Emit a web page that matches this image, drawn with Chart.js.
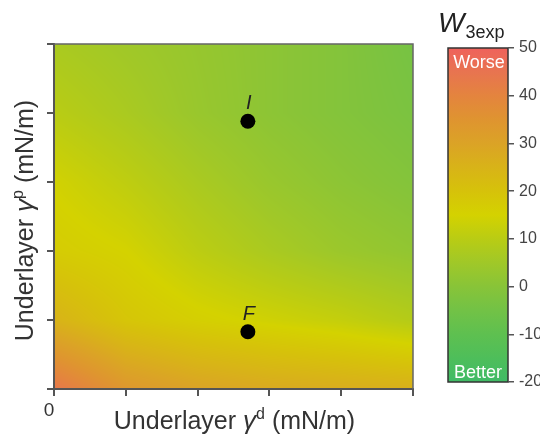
<!DOCTYPE html>
<html>
<head>
<meta charset="utf-8">
<script src="https://cdn.jsdelivr.net/npm/chart.js@4.4.1/dist/chart.umd.min.js"></script>
<style>
  html, body { margin: 0; padding: 0; background: #fff; }
  #wrap { position: relative; width: 540px; height: 435px; overflow: hidden; }
  #main { position: absolute; left: 0; top: 0; }
  #bar { position: absolute; left: 430px; top: 0; }
</style>
</head>
<body>
<div id="wrap">
  <canvas id="main" width="540" height="435"></canvas>
  <canvas id="bar" width="110" height="435"></canvas>
</div>
<script>
// W3exp values, one row per underlayer gamma p, one column per gamma d
const gammaD = [0, 10, 20, 30, 40, 50];
const gammaP = [0, 10, 20, 30, 40, 50];
const w3Rows = [
  [44, 34, 30, 28, 27, 26],      // p = 0
  [25, 19, 16, 14, 12, 9],       // p = 10
  [17, 15, 10.5, 7, 4, 2],       // p = 20
  [14.5, 11, 7, 3.5, 1, -1],     // p = 30
  [10, 7, 3.5, 1, -1, -3],       // p = 40
  [7, 5, 3, 1, -1, -4]           // p = 50
];

// the two marked underlayers
const pointNames = ['I', 'F'];
const pointD = [27, 27];
const pointP = [38.8, 8.3];

// colour bar
const barMin = -20;
const barMax = 50;
const barTicks = [50, 40, 30, 20, 10, 0, -10, -20];
const colorValues = [50, 45, 40, 35, 30, 25, 20, 15, 10, 5, 0, -5, -10, -15, -20];
const colorHex = ['#ef625c', '#e87450', '#e4843e', '#df9430', '#dba326', '#d8b318', '#d6c20a',
  '#d4d200', '#b9cc14', '#a0c828', '#88c438', '#72c246', '#5ec050', '#4ebe5a', '#40bb66'];

const FONT = '"Liberation Sans", Arial, Helvetica, sans-serif';
const TEXT = '#333';

function hexRgb(h) {
  return [parseInt(h.slice(1, 3), 16), parseInt(h.slice(3, 5), 16), parseInt(h.slice(5, 7), 16)];
}
const colorRgb = colorHex.map(hexRgb);

function colorAt(v) {
  if (v >= colorValues[0]) return colorRgb[0];
  for (let i = 0; i < colorValues.length - 1; i++) {
    const a = colorValues[i], b = colorValues[i + 1];
    if (v <= a && v >= b) {
      const t = (a - v) / (a - b);
      const c0 = colorRgb[i], c1 = colorRgb[i + 1];
      return [c0[0] + (c1[0] - c0[0]) * t, c0[1] + (c1[1] - c0[1]) * t, c0[2] + (c1[2] - c0[2]) * t];
    }
  }
  return colorRgb[colorRgb.length - 1];
}

function locate(arr, v) {
  let i = 0;
  while (i < arr.length - 2 && v > arr[i + 1]) i++;
  let t = (v - arr[i]) / (arr[i + 1] - arr[i]);
  t = Math.max(0, Math.min(1, t));
  return [i, t];
}

// smooth shading between the read grid values
function sampleGrid(d, p) {
  const [i, tx] = locate(gammaD, d);
  const [j, ty] = locate(gammaP, p);
  const v00 = w3Rows[j][i], v10 = w3Rows[j][i + 1];
  const v01 = w3Rows[j + 1][i], v11 = w3Rows[j + 1][i + 1];
  return (v00 * (1 - tx) + v10 * tx) * (1 - ty) + (v01 * (1 - tx) + v11 * tx) * ty;
}

// draws a list of text pieces centred on (0,0), used for the axis titles
function drawPieces(ctx, pieces) {
  let total = 0;
  pieces.forEach(p => { ctx.font = p.font; p.w = ctx.measureText(p.text).width; total += p.w; });
  let x = -total / 2;
  ctx.textBaseline = 'alphabetic';
  ctx.textAlign = 'left';
  pieces.forEach(p => {
    ctx.font = p.font;
    ctx.fillText(p.text, x, p.dy || 0);
    x += p.w;
  });
}

const heatmapPlugin = {
  id: 'heatmap',
  beforeDraw(chart) {
    const { ctx, chartArea: a, scales: { x, y } } = chart;
    const w = Math.round(a.right - a.left);
    const h = Math.round(a.bottom - a.top);
    const off = document.createElement('canvas');
    off.width = w;
    off.height = h;
    const octx = off.getContext('2d');
    const img = octx.createImageData(w, h);
    for (let j = 0; j < h; j++) {
      const p = y.getValueForPixel(a.top + j + 0.5);
      for (let i = 0; i < w; i++) {
        const d = x.getValueForPixel(a.left + i + 0.5);
        const c = colorAt(sampleGrid(d, p));
        const k = (j * w + i) * 4;
        img.data[k] = c[0];
        img.data[k + 1] = c[1];
        img.data[k + 2] = c[2];
        img.data[k + 3] = 255;
      }
    }
    octx.putImageData(img, 0, 0);
    ctx.drawImage(off, a.left, a.top);
  }
};

const decorPlugin = {
  id: 'decor',
  afterDraw(chart) {
    const { ctx, chartArea: a, scales: { x, y } } = chart;
    ctx.save();
    // top and right frame
    ctx.strokeStyle = '#666';
    ctx.lineWidth = 1.5;
    ctx.beginPath();
    ctx.moveTo(a.left, a.top);
    ctx.lineTo(a.right, a.top);
    ctx.lineTo(a.right, a.bottom);
    ctx.stroke();

    // point names
    ctx.fillStyle = '#222';
    ctx.font = 'italic 20px ' + FONT;
    ctx.textAlign = 'center';
    ctx.textBaseline = 'alphabetic';
    pointNames.forEach((n, i) => {
      ctx.fillText(n, x.getPixelForValue(pointD[i]) + 1, y.getPixelForValue(pointP[i]) - 12);
    });

    // axis titles
    ctx.fillStyle = TEXT;
    ctx.save();
    ctx.translate((a.left + a.right) / 2 + 1, 429);
    drawPieces(ctx, [
      { text: 'Underlayer ', font: '25px ' + FONT },
      { text: 'γ', font: 'italic 26px ' + FONT },
      { text: 'd', font: '16px ' + FONT, dy: -10 },
      { text: ' (mN/m)', font: '25px ' + FONT }
    ]);
    ctx.restore();
    ctx.save();
    ctx.translate(33, (a.top + a.bottom) / 2 + 4);
    ctx.rotate(-Math.PI / 2);
    drawPieces(ctx, [
      { text: 'Underlayer ', font: '25px ' + FONT },
      { text: 'γ', font: 'italic 26px ' + FONT },
      { text: 'p', font: '16px ' + FONT, dy: -10 },
      { text: ' (mN/m)', font: '25px ' + FONT }
    ]);
    ctx.restore();
    ctx.restore();
  }
};

const colorbarPlugin = {
  id: 'colorbar',
  beforeDraw(chart) {
    const { ctx, chartArea: a, scales: { y } } = chart;
    ctx.save();
    const g = ctx.createLinearGradient(0, a.top, 0, a.bottom);
    colorValues.forEach((v, i) => {
      const t = (y.getPixelForValue(v) - a.top) / (a.bottom - a.top);
      g.addColorStop(Math.max(0, Math.min(1, t)), colorHex[i]);
    });
    ctx.fillStyle = g;
    ctx.fillRect(a.left, a.top, a.right - a.left, a.bottom - a.top);
    ctx.strokeStyle = '#333';
    ctx.lineWidth = 1.5;
    ctx.strokeRect(a.left, a.top, a.right - a.left, a.bottom - a.top);

    const cx = (a.left + a.right) / 2;
    ctx.fillStyle = '#fff';
    ctx.font = '18px ' + FONT;
    ctx.textAlign = 'center';
    ctx.textBaseline = 'alphabetic';
    ctx.fillText('Worse', cx + 1, a.top + 20);
    ctx.fillText('Better', cx, a.bottom - 4);

    // W3exp heading
    ctx.fillStyle = '#222';
    ctx.textAlign = 'left';
    ctx.font = 'italic 28px ' + FONT;
    ctx.fillText('W', 8, 32);
    const ww = ctx.measureText('W').width;
    ctx.font = '18px ' + FONT;
    ctx.fillText('3exp', 8 + ww + 1, 38);
    ctx.restore();
  }
};

const axisGrid = { drawOnChartArea: false, drawTicks: true, tickLength: 7, color: '#555', lineWidth: 2 };
const axisBorder = { color: '#555', width: 2 };

new Chart(document.getElementById('main'), {
  type: 'scatter',
  data: {
    datasets: [{
      data: pointD.map((d, i) => ({ x: d, y: pointP[i] })),
      backgroundColor: '#000',
      borderWidth: 0,
      pointRadius: 7.5,
      pointHoverRadius: 7.5
    }]
  },
  options: {
    responsive: false,
    animation: false,
    layout: { padding: { top: 44, right: 127, left: 0, bottom: 0 } },
    plugins: { legend: { display: false }, tooltip: { enabled: false } },
    scales: {
      x: {
        type: 'linear',
        min: 0,
        max: 50,
        ticks: {
          stepSize: 10,
          autoSkip: false,
          maxRotation: 0,
          callback: v => (v === 0 ? '0' : ''),
          color: TEXT,
          font: { size: 19, family: FONT },
          padding: 3,
          labelOffset: -5
        },
        grid: axisGrid,
        border: axisBorder,
        afterFit: s => { s.height = 46; }
      },
      y: {
        type: 'linear',
        min: 0,
        max: 50,
        ticks: { stepSize: 10, display: false },
        grid: axisGrid,
        border: axisBorder,
        afterFit: s => { s.width = 54; }
      }
    }
  },
  plugins: [heatmapPlugin, decorPlugin]
});

new Chart(document.getElementById('bar'), {
  type: 'scatter',
  data: { datasets: [] },
  options: {
    responsive: false,
    animation: false,
    layout: { padding: { left: 18, top: 48, bottom: 53, right: 0 } },
    plugins: { legend: { display: false }, tooltip: { enabled: false } },
    scales: {
      x: { display: false, min: 0, max: 1 },
      y: {
        position: 'right',
        min: barMin,
        max: barMax,
        afterBuildTicks: s => { s.ticks = barTicks.map(v => ({ value: v })); },
        ticks: { color: '#444', font: { size: 16, family: FONT }, padding: 5 },
        grid: { drawOnChartArea: false, tickLength: 6, color: '#555', lineWidth: 1.5 },
        border: { display: false },
        afterFit: s => { s.width = 32; }
      }
    }
  },
  plugins: [colorbarPlugin]
});
</script>
</body>
</html>
